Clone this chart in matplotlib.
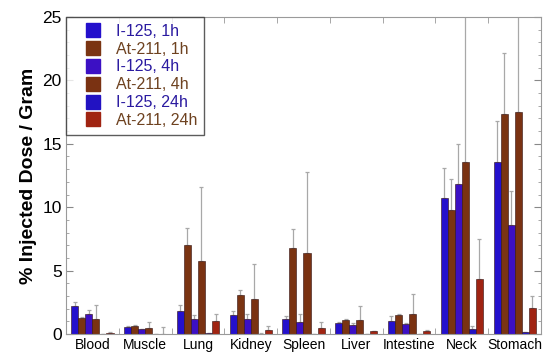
import matplotlib
matplotlib.use("Agg")
import matplotlib.pyplot as plt
import numpy as np
from matplotlib.ticker import MultipleLocator
from matplotlib.lines import Line2D

categories = ["Blood", "Muscle", "Lung", "Kidney", "Spleen", "Liver", "Intestine", "Neck", "Stomach"]
series_names = ["I-125, 1h", "At-211, 1h", "I-125, 4h", "At-211, 4h", "I-125, 24h", "At-211, 24h"]

i125_1h = [2.18, 0.58, 1.84, 1.50, 1.16, 0.89, 1.05, 10.70, 13.54]
at211_1h = [1.24, 0.63, 7.04, 3.05, 6.80, 1.08, 1.50, 9.78, 17.35]
i125_4h = [1.55, 0.37, 1.21, 1.18, 0.97, 0.73, 0.79, 11.83, 8.60]
at211_4h = [1.16, 0.47, 5.76, 2.76, 6.36, 1.08, 1.58, 13.56, 17.50]
i125_24h = [0.02, 0.01, 0.05, 0.03, 0.02, 0.02, 0.02, 0.37, 0.16]
at211_24h = [0.05, 0.02, 1.02, 0.34, 0.50, 0.21, 0.26, 4.31, 2.05]

i125_1h_err = [0.37, 0.05, 0.42, 0.34, 0.24, 0.06, 0.37, 2.40, 3.26]
at211_1h_err = [0.10, 0.05, 1.29, 0.45, 1.48, 0.07, 0.05, 2.42, 4.85]
i125_4h_err = [0.37, 0.05, 0.31, 0.40, 0.58, 0.12, 0.11, 3.17, 2.70]
at211_4h_err = [1.13, 0.45, 5.81, 2.74, 6.39, 1.10, 1.57, 13.00, 10.00]
i125_24h_err = [0.01, 0.00, 0.02, 0.01, 0.01, 0.01, 0.01, 0.25, 0.02]
at211_24h_err = [0.10, 0.53, 0.56, 0.29, 0.42, 0.02, 0.04, 3.16, 0.95]

values = [i125_1h, at211_1h, i125_4h, at211_4h, i125_24h, at211_24h]
errors = [i125_1h_err, at211_1h_err, i125_4h_err, at211_4h_err, i125_24h_err, at211_24h_err]
colors = ["#2410cc", "#7a3412", "#3c10c4", "#7a3212", "#2212c2", "#a02412"]
text_colors = ["#2a1aa0", "#6e4220", "#2a1aa0", "#6e4220", "#2a1aa0", "#6e4220"]

plt.rcParams['font.family'] = ['Liberation Sans', 'DejaVu Sans']

fig = plt.figure(figsize=(5.5, 3.57), dpi=100)
ax = fig.add_axes([66/550, 1-334/357, (541-66)/550, (334-17)/357])

x = np.arange(len(categories))
w = 0.8 / 6
for i, (vals, errs) in enumerate(zip(values, errors)):
    pos = x + (i - 2.5) * w
    ax.bar(pos, vals, width=w, color=colors[i], edgecolor="#301010", linewidth=0.4, zorder=2)
    ax.errorbar(pos, vals, yerr=[np.zeros(len(errs)), errs], fmt="none",
                ecolor="#a8a8a8", elinewidth=0.9, capsize=1.5, capthick=0.9, zorder=1)

ax.set_xlim(-0.5, len(categories) - 0.5)
ax.set_ylim(0, 25)
ax.set_xticks(x)
ax.set_xticklabels(categories, fontsize=10)
ax.set_xticks(np.arange(len(categories) + 1) - 0.5, minor=True)
ax.tick_params(axis="x", which="major", length=0, pad=3)
ax.tick_params(axis="x", which="minor", direction="in", length=4, top=True, bottom=True, color="#999999")
ax.yaxis.set_major_locator(MultipleLocator(5))
ax.yaxis.set_minor_locator(MultipleLocator(1))
ax.tick_params(axis="y", which="major", direction="in", length=5, right=True, labelsize=12.5,
               color="#888888", pad=3)
ax.tick_params(axis="y", which="minor", direction="in", length=2.5, right=True, color="#999999")
for s in ax.spines.values():
    s.set_color("#9a9a9a")
    s.set_linewidth(0.8)

ax.set_ylabel("% Injected Dose / Gram", fontsize=14, fontweight="bold", labelpad=4)

handles = [Line2D([], [], linestyle="none", marker="s", markersize=10.5,
                  markerfacecolor=c, markeredgecolor=c) for c in colors]
leg = ax.legend(handles, series_names, loc="upper left", bbox_to_anchor=(0.0, 1.0), fontsize=11.5,
                frameon=True, fancybox=False, edgecolor="#333333", handlelength=2.6,
                handletextpad=0.1, labelspacing=0.18, borderpad=0.42, borderaxespad=0.0)
leg.get_frame().set_linewidth(1.0)
for t, c in zip(leg.get_texts(), text_colors):
    t.set_color(c)

fig.savefig("out.png", dpi=100)
